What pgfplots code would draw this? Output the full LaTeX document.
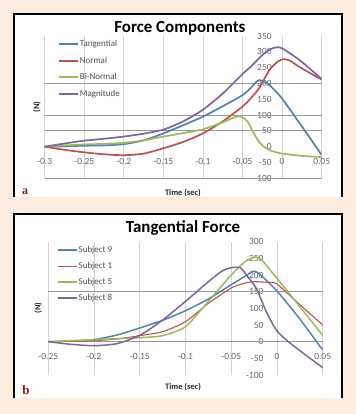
\documentclass[border=0pt]{standalone}
\usepackage{pgfplots}
\pgfplotsset{compat=1.18}
\usepackage{fontspec}
\setmainfont{Carlito}
\newfontfamily\serifb{Liberation Serif}
\definecolor{peach}{RGB}{252,235,223}
\definecolor{xblue}{RGB}{79,129,189}
\definecolor{xred}{RGB}{192,80,77}
\definecolor{xgreen}{RGB}{155,187,89}
\definecolor{xpurple}{RGB}{128,100,162}
\definecolor{lbl}{RGB}{140,26,26}
\pgfplotsset{
  chart/.style={
    scale only axis,
    enlargelimits=false,
    axis x line=middle, axis y line=middle,
    axis line style={draw=none},
    hide obscured x ticks=false, hide obscured y ticks=false,
    major tick length=0pt,
    xmajorgrids, ymajorgrids=false,
    major grid style={gray!35, line width=0.8bp},
    tick label style={font=\fontsize{9.5}{10}\selectfont, text=black!60},
    /pgf/number format/assume math mode=true,
    xticklabel style={anchor=north, yshift=-8.5bp},
    yticklabel style={anchor=east, xshift=-7bp},
    extra y tick labels={},
    extra y tick style={grid=major, major grid style={gray!80, line width=0.8bp}},
    legend cell align=left,
    legend style={draw=none, fill=none, inner sep=0pt, anchor=north west,
      font=\fontsize{9}{10}\selectfont,
      nodes={inner sep=1bp, text height=6.5bp, text depth=1.5bp, text=black!70}},
    legend image code/.code={\draw[##1] (0bp,0bp) -- (19bp,0bp);},
    every axis title/.style={anchor=center, font=\bfseries\fontsize{17}{19}\selectfont},
    every axis x label/.style={anchor=center, font=\bfseries\fontsize{8.5}{10}\selectfont, text=black!85},
    every axis y label/.style={anchor=center, rotate=90, font=\bfseries\fontsize{8.5}{10}\selectfont, text=black!85},
  }
}
\begin{document}
\begin{tikzpicture}[x=1bp,y=1bp]
\fill[peach] (0,0) rectangle (356,414);
\fill[white] (14,217) rectangle (342,400);
\draw[line width=1.2bp] (14,217)--(14,400)--(342,400)--(342,217);
\fill[white] (14,16) rectangle (342,200);
\draw[line width=1.2bp] (14,16)--(14,200)--(342,200)--(342,16);

\begin{axis}[chart,
  at={(44.7bp,235.7bp)}, anchor=south west,
  width=277bp, height=142.3bp,
  xmin=-0.3, xmax=0.05, ymin=-100, ymax=350,
  xtick={-0.3,-0.25,-0.2,-0.15,-0.1,-0.05,0,0.05},
  xticklabels={-0.3,-0.25,-0.2,-0.15,-0.1,-0.05,0,0.05},
  ytick={-100,-50,0,50,100,150,200,250,300,350},
  yticklabels={-100,-50,0,50,100,150,200,250,300,350},
  extra y ticks={-100,50,100,200},
  title={Force Components},
  title style={at={(axis description cs:0.488,1.056)}},
  xlabel={Time (sec)},
  xlabel style={at={(axis description cs:0.499,-0.1)}},
  ylabel={(N)},
  ylabel style={at={(axis description cs:-0.028,0.501)}},
  legend style={at={(axis description cs:0.048,0.979)}, row sep=6.5bp},
]
\addplot[xblue, line width=1.7bp, smooth, tension=0.4] coordinates {
(-0.3,0) (-0.275,1) (-0.25,3) (-0.225,4) (-0.2,8) (-0.175,20) (-0.15,42) (-0.125,68)
(-0.1,95) (-0.075,128) (-0.05,163) (-0.04,185) (-0.03,210) (-0.02,203) (-0.01,180)
(0,152) (0.025,64) (0.05,-26)};
\addlegendentry{Tangential}
\addplot[xred, line width=1.7bp, smooth, tension=0.4] coordinates {
(-0.3,0) (-0.275,-10) (-0.25,-18) (-0.225,-24) (-0.2,-27) (-0.175,-22) (-0.15,-5)
(-0.125,15) (-0.1,42) (-0.075,80) (-0.05,127) (-0.04,152) (-0.029,185) (-0.016,243)
(-0.005,270) (0.002,277) (0.01,272) (0.022,252) (0.05,212)};
\addlegendentry{Normal}
\addplot[xgreen, line width=1.7bp, smooth, tension=0.4] coordinates {
(-0.3,0) (-0.275,4) (-0.25,7) (-0.225,9) (-0.2,12) (-0.175,20) (-0.15,32) (-0.125,43)
(-0.1,55) (-0.075,77) (-0.06,93) (-0.054,96) (-0.048,90) (-0.0425,75) (-0.0375,50)
(-0.031,22) (-0.025,4) (-0.015,-12) (0,-22) (0.025,-29) (0.05,-33)};
\addlegendentry{Bi-Normal}
\addplot[xpurple, line width=1.7bp, smooth, tension=0.4] coordinates {
(-0.3,0) (-0.275,10) (-0.25,19) (-0.225,25) (-0.2,32) (-0.175,41) (-0.15,54)
(-0.125,80) (-0.1,117) (-0.075,168) (-0.05,230) (-0.04,252) (-0.025,290)
(-0.015,308) (-0.0075,314) (0,311) (0.022,274) (0.05,214)};
\addlegendentry{Magnitude}
\end{axis}

\begin{axis}[chart,
  at={(48.3bp,39bp)}, anchor=south west,
  width=274.4bp, height=133.3bp,
  xmin=-0.25, xmax=0.05, ymin=-100, ymax=300,
  xtick={-0.25,-0.2,-0.15,-0.1,-0.05,0,0.05},
  xticklabels={-0.25,-0.2,-0.15,-0.1,-0.05,0,0.05},
  ytick={-100,-50,0,50,100,150,200,250,300},
  yticklabels={-100,-50,0,50,100,150,200,250,300},
  yticklabel style={xshift=-3bp},
  extra y ticks={0,150},
  title={Tangential Force},
  title style={at={(axis description cs:0.491,1.103)}},
  xlabel={Time (sec)},
  xlabel style={at={(axis description cs:0.491,-0.09)}},
  ylabel={(N)},
  ylabel style={at={(axis description cs:-0.0375,0.503)}},
  legend style={at={(axis description cs:0.0317,0.975)}, row sep=6bp},
]
\addplot[xblue, line width=1.5bp, smooth, tension=0.4] coordinates {
(-0.25,0) (-0.225,2) (-0.2,6) (-0.175,20) (-0.15,41) (-0.125,64) (-0.1,93)
(-0.075,128) (-0.05,171) (-0.035,196) (-0.0265,211) (-0.02,205) (0,152) (0.025,68) (0.05,-25)};
\addlegendentry{Subject 9}
\addplot[xred, line width=1.1bp, smooth, tension=0.4] coordinates {
(-0.25,0) (-0.225,1) (-0.2,3) (-0.175,8) (-0.15,18) (-0.125,30) (-0.1,60)
(-0.075,115) (-0.05,161) (-0.035,176) (-0.025,180) (-0.01,178) (0,173) (0.025,111) (0.05,50)};
\addlegendentry{Subject 1}
\addplot[xgreen, line width=1.5bp, smooth, tension=0.4] coordinates {
(-0.25,0) (-0.225,3) (-0.2,6) (-0.175,9) (-0.15,12) (-0.125,18) (-0.1,45)
(-0.075,121) (-0.05,200) (-0.035,240) (-0.026,252) (-0.018,249) (0,190) (0.025,105) (0.05,19)};
\addlegendentry{Subject 5}
\addplot[xpurple, line width=1.5bp, smooth, tension=0.4] coordinates {
(-0.25,0) (-0.225,-8) (-0.2,-12) (-0.175,-6) (-0.15,19) (-0.125,65) (-0.1,121)
(-0.075,180) (-0.06,212) (-0.05,222) (-0.04,222) (-0.0334,200) (-0.0226,160)
(-0.0117,90) (-0.0007,35) (0.0103,5) (0.025,-27) (0.05,-78)};
\addlegendentry{Subject 8}
\end{axis}

\node[font=\serifb\bfseries\fontsize{12}{13}\selectfont, text=lbl] at (25bp,222.5bp) {a};
\node[font=\serifb\bfseries\fontsize{13}{14}\selectfont, text=lbl] at (26bp,24bp) {b};
\end{tikzpicture}
\end{document}
